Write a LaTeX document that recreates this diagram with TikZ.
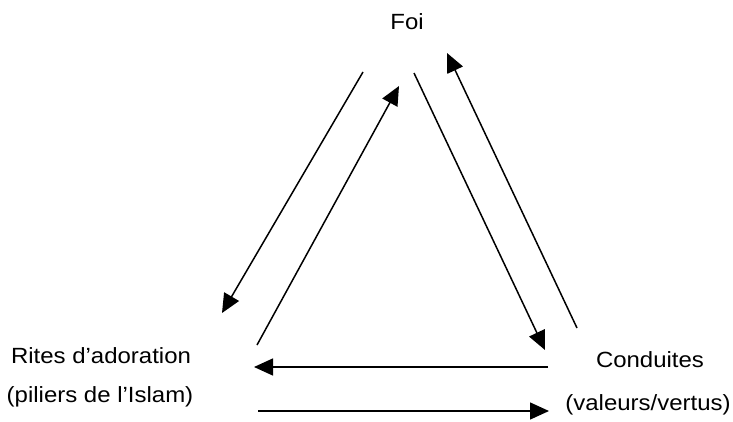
\documentclass[tikz,border=0pt]{standalone}
\usepackage{fontspec}
\setmainfont[FakeStretch=1.09]{Liberation Sans}
\usetikzlibrary{arrows.meta}
\begin{document}
\begin{tikzpicture}[x=1pt,y=-1pt,
  label/.style={inner sep=0pt,font=\fontsize{22}{26}\selectfont},
  flow/.style={line width=1.5pt,-{Triangle[length=19pt,width=17pt]}}]
\useasboundingbox (0,0) rectangle (733,422);
% the three poles
\node[label] (foi) at (407,22) {Foi};
\node[label] (rites) at (101,356) {Rites d’adoration};
\node[label] (piliers) at (100,397) {(piliers de l’Islam)};
\node[label] (cond) at (650,360) {Conduites};
\node[label] (valeurs) at (648,405) {(valeurs/vertus)};
% arrow end points
\coordinate (a1s) at (363,72);  \coordinate (a1e) at (222,313);
\coordinate (a2s) at (257,345); \coordinate (a2e) at (399,86);
\coordinate (a3s) at (414,73);  \coordinate (a3e) at (545,350);
\coordinate (a4s) at (577,328); \coordinate (a4e) at (447,53);
\coordinate (h1s) at (548,367); \coordinate (h1e) at (254,367);
\coordinate (h2s) at (258,411); \coordinate (h2e) at (549,411);
% Foi <-> Rites
\draw[flow] (a1s) -- (a1e);
\draw[flow] (a2s) -- (a2e);
% Foi <-> Conduites
\draw[flow] (a3s) -- (a3e);
\draw[flow] (a4s) -- (a4e);
% Rites <-> Conduites
\draw[flow] (h1s) -- (h1e);
\draw[flow] (h2s) -- (h2e);
\end{tikzpicture}
\end{document}
